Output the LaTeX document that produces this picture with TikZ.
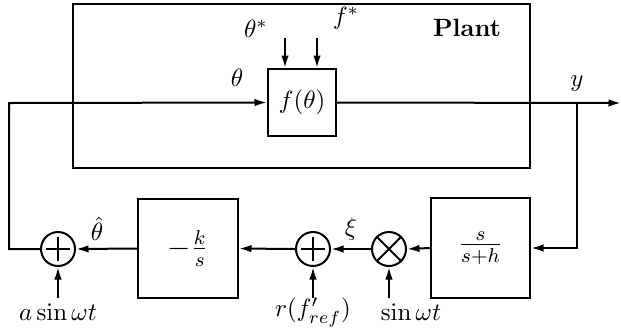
\documentclass[tikz,border=0pt]{standalone}
\usetikzlibrary{arrows.meta}
\begin{document}
\begin{tikzpicture}[x=0.4pt,y=-0.4pt,line width=0.8pt,
  >={Latex[length=5pt,width=3pt]},
  blk/.style={draw,rectangle,inner sep=0pt},
  junc/.style={draw,circle,minimum size=13.6pt,inner sep=0pt},
  lbl/.style={inner sep=1pt}]
\useasboundingbox (0,0) rectangle (621,335);
% plant frame
\node[blk,minimum width=182.8pt,minimum height=65.6pt] (plant) at (301.5,86) {};
\node[lbl] (plantlbl) at (467,28) {\textbf{Plant}};
% f(theta)
\node[blk,minimum width=27.2pt,minimum height=26.8pt] (f) at (302,102.5) {$f(\theta)$};
\coordinate (ts) at (285,38);
\coordinate (fs) at (317,38);
\node[lbl] (tsl) at (256,29) {$\theta^*$};
\node[lbl] (fsl) at (346,18) {$f^*$};
\node[lbl] (thl) at (237,78) {$\theta$};
\node[lbl] (yl) at (577,84) {$y$};
\draw[->] (ts) -- (ts |- f.north);
\draw[->] (fs) -- (fs |- f.north);
% output
\coordinate (out) at (621,103);
\coordinate (br) at (577,103);
\draw[->] (f.east) -- (out);
% lower blocks
\node[blk,minimum width=39.6pt,minimum height=40pt] (hp) at (480.5,248) {\large$\frac{s}{s+h}$};
\node[blk,minimum width=40pt,minimum height=39.6pt] (int) at (188,248.5) {\large$-\frac{k}{s}$};
\node[junc] (mul) at (389,249) {};
\node[junc] (sum2) at (313,249) {};
\node[junc] (sum1) at (58,249) {};
\draw (mul.45) -- (mul.225) (mul.135) -- (mul.315);
\foreach \n in {sum1,sum2}{
  \draw ([xshift=-4.8pt]\n.center) -- ([xshift=4.8pt]\n.center)
        ([yshift=-4.8pt]\n.center) -- ([yshift=4.8pt]\n.center);
}
\draw[->] (br) |- (hp.east);
\draw[->] (hp.west) -- (mul.east);
\draw[->] (mul.west) -- (sum2.east);
\draw[->] (sum2.west) -- (int.east);
\draw[->] (int.west) -- (sum1.east);
\coordinate (lc) at (9,103);
\draw[->] (sum1.west) -| (lc) -- (f.west);
\node[lbl] (thh) at (97,229) {$\hat\theta$};
\node[lbl] (xil) at (351,229) {$\xi$};
% inputs
\coordinate (in1) at (58,298);
\coordinate (in2) at (313,298);
\coordinate (in3) at (389,298);
\draw[->] (in1) -- (sum1.south);
\draw[->] (in2) -- (sum2.south);
\draw[->] (in3) -- (mul.south);
\node[lbl] (a1) at (58,312) {$a\sin\omega t$};
\node[lbl] (a2) at (313,312) {$r(f'_{ref})$};
\node[lbl] (a3) at (411,312) {$\sin\omega t$};
\end{tikzpicture}
\end{document}
